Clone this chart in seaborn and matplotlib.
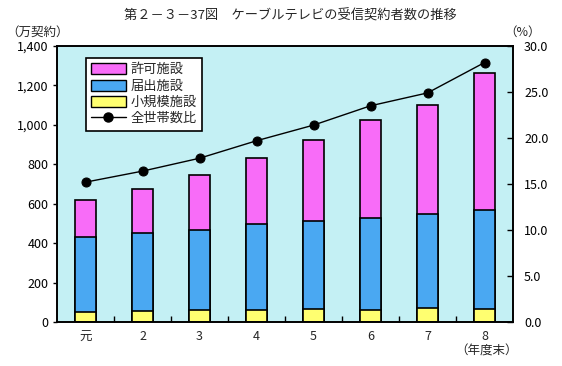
import matplotlib
matplotlib.use("Agg")
import matplotlib.pyplot as plt
import seaborn as sns
import pandas as pd
import numpy as np
from matplotlib.patches import Patch
from matplotlib.lines import Line2D
from matplotlib.ticker import FuncFormatter, MultipleLocator, FixedLocator

years = ['元', '2', '3', '4', '5', '6', '7', '8']
small = [49, 54, 59, 59, 64, 62, 69, 68]          # 小規模施設
notified = [381, 396, 410, 437, 447, 467, 481, 499]  # 届出施設
licensed = [188, 224, 276, 336, 411, 495, 551, 695]  # 許可施設
ratio = [15.2, 16.4, 17.8, 19.7, 21.4, 23.5, 24.9, 28.2]  # 全世帯数比 (%)

sns.set_theme(style="white")
plt.rcParams['font.family'] = ['Noto Sans CJK JP', 'DejaVu Sans']

df = pd.DataFrame({'year': years, 'small': small, 'notified': notified,
                   'licensed': licensed, 'ratio': ratio})
df['c_small'] = df['small']
df['c_notified'] = df['small'] + df['notified']
df['c_total'] = df['c_notified'] + df['licensed']

c_pink = '#f86cf8'
c_blue = '#4aa8f2'
c_yellow = '#ffff70'
c_bg = '#c4f0f4'

fig = plt.figure(figsize=(5.62, 3.66), dpi=100)
ax = fig.add_axes([57/562, 1-322/366, (513-57)/562, (322-46)/366])
ax.set_facecolor(c_bg)

bw = 0.38
sns.barplot(data=df, x='year', y='c_total', color=c_pink, edgecolor='black',
            linewidth=1.2, width=bw, saturation=1, ax=ax, order=years)
sns.barplot(data=df, x='year', y='c_notified', color=c_blue, edgecolor='black',
            linewidth=1.2, width=bw, saturation=1, ax=ax, order=years)
sns.barplot(data=df, x='year', y='c_small', color=c_yellow, edgecolor='black',
            linewidth=1.2, width=bw, saturation=1, ax=ax, order=years)

ax.set_xlim(-0.5, 7.5)
ax.set_ylim(0, 1400)
ax.yaxis.set_major_locator(MultipleLocator(200))
ax.yaxis.set_major_formatter(FuncFormatter(lambda v, p: f'{int(v):,}'))
ax.set_xlabel('')
ax.set_ylabel('')
ax.tick_params(axis='y', which='major', direction='out', length=3, width=1,
               labelsize=9, pad=3, left=True, colors='black')
ax.tick_params(axis='x', which='major', length=0, labelsize=9, pad=6)
ax.xaxis.set_minor_locator(FixedLocator(np.arange(0.5, 7.5, 1.0)))
ax.tick_params(axis='x', which='minor', direction='in', length=4, width=1,
               bottom=True, color='black')
for s in ax.spines.values():
    s.set_visible(True)
    s.set_color('black')
    s.set_linewidth(1.2)

ax2 = ax.twinx()
sns.pointplot(x=list(range(len(years))), y=ratio, native_scale=True,
              color='black', markers='o', linestyles='-', ax=ax2,
              linewidth=1, markersize=6.5, errorbar=None)
ax2.set_ylim(0, 30)
ax2.set_xlim(-0.5, 7.5)
ax2.yaxis.set_major_locator(MultipleLocator(5))
ax2.yaxis.set_major_formatter(FuncFormatter(lambda v, p: f'{v:.1f}'))
ax2.tick_params(axis='y', which='major', direction='in', length=4, width=1,
                labelsize=9, pad=8, right=True, colors='black')
ax2.set_ylabel('')
ax2.set_xlabel('')
for s in ax2.spines.values():
    s.set_visible(True)
    s.set_color('black')
    s.set_linewidth(1.2)

handles = [Patch(facecolor=c_pink, edgecolor='black', label='許可施設'),
           Patch(facecolor=c_blue, edgecolor='black', label='届出施設'),
           Patch(facecolor=c_yellow, edgecolor='black', label='小規模施設'),
           Line2D([0], [0], color='black', lw=1, marker='o', markersize=6.5,
                  label='全世帯数比')]
leg = ax2.legend(handles=handles, loc='upper left',
                 bbox_to_anchor=((86-57)/456, 1-(58-46)/276),
                 frameon=True, fancybox=False, edgecolor='black',
                 facecolor='white', framealpha=1, fontsize=9.5,
                 handlelength=2.6, handleheight=0.9, labelspacing=0.25,
                 borderpad=0.4, handletextpad=0.4, borderaxespad=0)
leg.get_frame().set_linewidth(1.2)

fig.text(290/562, 1-16/366, '第２－３－37図　ケーブルテレビの受信契約者数の推移',
         ha='center', va='center', fontsize=9.5)
fig.text(6/562, 1-32/366, '（万契約）', ha='left', va='center', fontsize=9)
fig.text(523/562, 1-32/366, '（%）', ha='center', va='center', fontsize=9)
fig.text(487/562, 1-351/366, '（年度末）', ha='center', va='center', fontsize=9)

fig.savefig('out.png', dpi=100)
